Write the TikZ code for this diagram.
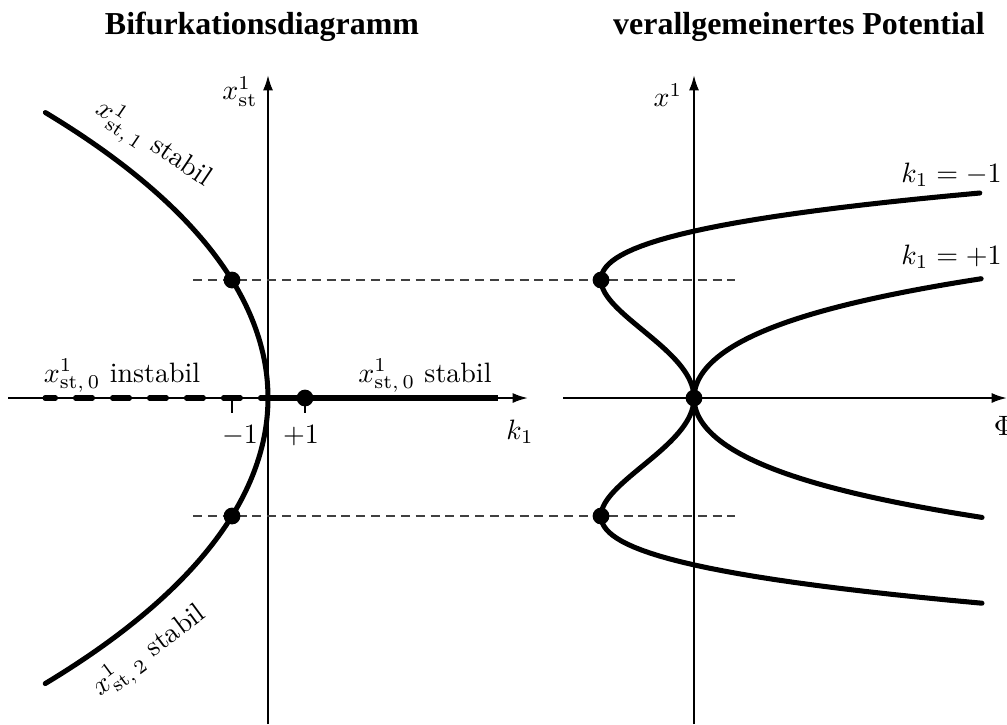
\documentclass[tikz,border=0pt]{standalone}
\usepackage{fontspec}
\newfontfamily\titlefont{Liberation Serif}
\usetikzlibrary{arrows.meta}
\begin{document}
\begin{tikzpicture}[x=0.357pt,y=-0.357pt,
  axis/.style={line width=0.75pt,-{Latex[length=5.5pt,width=3.6pt]}},
  curve/.style={line width=1.8pt,line cap=round},
  helper/.style={line width=0.4pt,black!75,dash pattern=on 3.2pt off 2.1pt},
  dot/.style={circle,fill,inner sep=0pt,minimum size=6pt},
  tick/.style={line width=0.75pt},
  lab/.style={inner sep=1pt},
  title/.style={font=\titlefont\bfseries\fontsize{11.4}{13}\selectfont}]
\useasboundingbox (0,0) rectangle (1007,724);
% titles
\node[title] (t1) at (262,27) {Bifurkationsdiagramm};
\node[title] (t2) at (799,27) {verallgemeinertes Potential};
% ---------- left diagram ----------
\coordinate (LO) at (268,398);
\coordinate (Lxb) at (268,724);
\coordinate (Lxt) at (268,75);
\coordinate (Lkl) at (8,398);
\coordinate (Lkr) at (528,398);
\coordinate (Ldl) at (45,398);
\coordinate (Lsr) at (498,398);
\draw[axis] (Lxb) -- (Lxt);
\draw[axis] (Lkl) -- (Lkr);
% ticks
\coordinate (Tm) at (232,398); \coordinate (Tmb) at (232,413);
\coordinate (Tp) at (305,398); \coordinate (Tpb) at (305,413);
\draw[tick] (Tm) -- (Tmb);
\draw[tick] (Tp) -- (Tpb);
% branch x_st,0
\draw[line width=1.8pt,line cap=round,dash pattern=on 6.05pt off 7.15pt,dash phase=2.3pt] (Ldl) -- (LO);
\draw[line width=1.8pt] (LO) -- (Lsr);
% parabola
\draw[curve] plot[domain=-2.42:2.42,samples=120,variable=\t]
  ({268-35.58*\t*\t-0.42*\t*\t*\t*\t},{398-118*\t});
% helper lines
\coordinate (Hu1) at (193,280); \coordinate (Hu2) at (735,280);
\coordinate (Hd1) at (193,516); \coordinate (Hd2) at (735,516);
\draw[helper] (Hu1) -- (Hu2);
\draw[helper] (Hd1) -- (Hd2);
% dots
\node[dot] (Du) at (232,280) {};
\node[dot] (Dd) at (232,516) {};
\node[dot] (Dp) at (305,398) {};
% labels
\node[lab] (lxst) at (240,92) {$x^1_{\mathrm{st}}$};
\node[lab] (lk1) at (520,432) {$k_1$};
\node[lab] (lm1) at (240,436) {$-1$};
\node[lab] (lp1) at (301,436) {$+1$};
\node[lab] (linst) at (122,376) {$x^1_{\mathrm{st},\,0}$ instabil};
\node[lab] (lstab) at (425,376) {$x^1_{\mathrm{st},\,0}$ stabil};
\node[lab,rotate=-34] (ls1) at (153,145) {$x^1_{\mathrm{st},\,1}$ stabil};
\node[lab,rotate=36.5] (ls2) at (150,652) {$x^1_{\mathrm{st},\,2}$ stabil};
% ---------- right diagram ----------
\coordinate (RO) at (694,398);
\coordinate (Rxb) at (694,724);
\coordinate (Rxt) at (694,75);
\coordinate (Rpl) at (563,398);
\coordinate (Rpr) at (1007,398);
\draw[axis] (Rxb) -- (Rxt);
\draw[axis] (Rpl) -- (Rpr);
% potentials
\draw[curve] plot[domain=-1.739:1.739,samples=140,variable=\t]
  ({694+372*(\t*\t*\t*\t/4-\t*\t/2)},{398-118*\t});
\draw[curve] plot[domain=-1.012:1.012,samples=120,variable=\t]
  ({694+372*(\t*\t*\t*\t/4+\t*\t/2)},{398-118*\t});
\node[dot] (Ru) at (601,280) {};
\node[dot] (Rd) at (601,516) {};
\node[dot] (R0) at (694,398) {};
% labels
\node[lab] (rx) at (668,95) {$x^1$};
\node[lab,anchor=west] (rkm) at (898,175) {$k_1=-1$};
\node[lab,anchor=west] (rkp) at (898,257) {$k_1=+1$};
\node[lab] (rphi) at (1004,426) {$\Phi$};
\end{tikzpicture}
\end{document}
